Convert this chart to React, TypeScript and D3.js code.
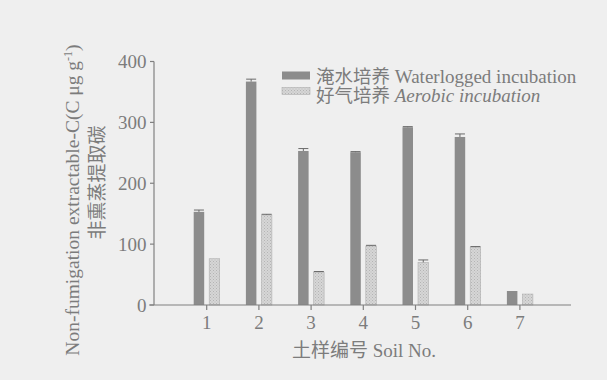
import React from "react";
import * as d3 from "d3";

const soils = ["1", "2", "3", "4", "5", "6", "7"];
const waterlogged = [153, 367, 253, 251, 292, 276, 23];
const waterloggedErr = [3, 4, 4, 1, 1, 5, 0];
const aerobic = [76, 148, 54, 97, 70, 95, 18];
const aerobicErr = [0, 1, 1, 1, 4, 1, 0];
const yTicks = [0, 100, 200, 300, 400];

const W = 607;
const H = 380;

export default function App() {
  const y = d3.scaleLinear().domain([0, 400]).range([305, 61.5]);
  const x = d3.scaleBand<string>().domain(soils).range([180.6, 546]).paddingInner(0).paddingOuter(0);
  const bw = x.bandwidth();
  const barW = 10.5;
  const gap = 2.5;
  const textCol = "#7c7c7c";
  const axisCol = "#808080";
  const serif = "'Liberation Serif', 'Times New Roman', serif";
  const cjk = "'Noto Sans CJK SC', sans-serif";

  const errBar = (cx: number, v: number, e: number, key: string) =>
    e > 0 ? (
      <g key={key} stroke="#6a6a6a" strokeWidth={1}>
        <line x1={cx} x2={cx} y1={y(v)} y2={y(v + e)} />
        <line x1={cx - 5} x2={cx + 5} y1={y(v + e)} y2={y(v + e)} />
      </g>
    ) : null;

  return (
    <div style={{ position: "fixed", left: 0, top: 0 }}>
      <svg width={W} height={H} style={{ display: "block" }}>
        <defs>
          <pattern id="dots" width="3" height="3" patternUnits="userSpaceOnUse">
            <rect width="3" height="3" fill="#d6d6d6" />
            <rect x="0" y="0" width="1" height="1" fill="#b4b4b4" />
            <rect x="1.5" y="1.5" width="1" height="1" fill="#bcbcbc" />
          </pattern>
        </defs>
        <rect x={0} y={0} width={W} height={H} fill="#efefef" />

        {/* bars */}
        {soils.map((s, i) => {
          const c = (x(s) as number) + bw / 2;
          return (
            <g key={s}>
              <rect x={c - gap - barW} y={y(waterlogged[i])} width={barW} height={y(0) - y(waterlogged[i])} fill="#8c8c8c" />
              <rect x={c + gap} y={y(aerobic[i])} width={barW} height={y(0) - y(aerobic[i])} fill="url(#dots)" stroke="#b0b0b0" strokeWidth={0.6} />
              {errBar(c - gap - barW / 2, waterlogged[i], waterloggedErr[i], "we" + s)}
              {errBar(c + gap + barW / 2, aerobic[i], aerobicErr[i], "ae" + s)}
            </g>
          );
        })}

        {/* y axis */}
        <line x1={154} x2={154} y1={y(400)} y2={y(0)} stroke={axisCol} strokeWidth={1.2} />
        {yTicks.map((t) => (
          <g key={t}>
            <line x1={150} x2={154} y1={y(t)} y2={y(t)} stroke={axisCol} strokeWidth={1.2} />
            <text x={146.5} y={y(t)} dy="0.35em" textAnchor="end" fontFamily={serif} fontSize={19} fill={textCol}>
              {t}
            </text>
          </g>
        ))}

        {/* x axis */}
        <line x1={149} x2={571} y1={y(0)} y2={y(0)} stroke={axisCol} strokeWidth={1.2} />
        {soils.map((s) => {
          const c = (x(s) as number) + bw / 2;
          return (
            <g key={"t" + s}>
              <line x1={c} x2={c} y1={y(0)} y2={y(0) + 5} stroke={axisCol} strokeWidth={1.2} />
              <text x={c} y={328.5} textAnchor="middle" fontFamily={serif} fontSize={19} fill={textCol}>
                {s}
              </text>
            </g>
          );
        })}

        {/* x label */}
        <text x={364} y={357} textAnchor="middle" fontSize={19} fill={textCol}>
          <tspan fontFamily={cjk}>土样编号</tspan>
          <tspan fontFamily={serif}> Soil No.</tspan>
        </text>

        {/* y labels */}
        <text transform="translate(79,200) rotate(-90)" textAnchor="middle" fontFamily={serif} fontSize={19.5} fill={textCol}>
          Non-fumigation extractable-C(C μg g
          <tspan fontSize={12} dy={-7}>-1</tspan>
          <tspan dy={7}>)</tspan>
        </text>
        <text transform="translate(104,182.5) rotate(-90)" textAnchor="middle" fontFamily={cjk} fontSize={19} fill={textCol}>
          非熏蒸提取碳
        </text>

        {/* legend */}
        <rect x={282} y={71.5} width={28} height={8} fill="#8c8c8c" />
        <rect x={282} y={87.5} width={28} height={7} fill="url(#dots)" stroke="#b0b0b0" strokeWidth={0.6} />
        <text x={316} y={82.5} fontSize={19} fill={textCol}>
          <tspan fontFamily={cjk} fontSize={18.5}>淹水培养</tspan>
          <tspan fontFamily={serif}> Waterlogged incubation</tspan>
        </text>
        <text x={316} y={102} fontSize={19} fill={textCol}>
          <tspan fontFamily={cjk} fontSize={18.5}>好气培养</tspan>
          <tspan fontFamily={serif} fontStyle="italic"> Aerobic incubation</tspan>
        </text>
      </svg>
    </div>
  );
}
